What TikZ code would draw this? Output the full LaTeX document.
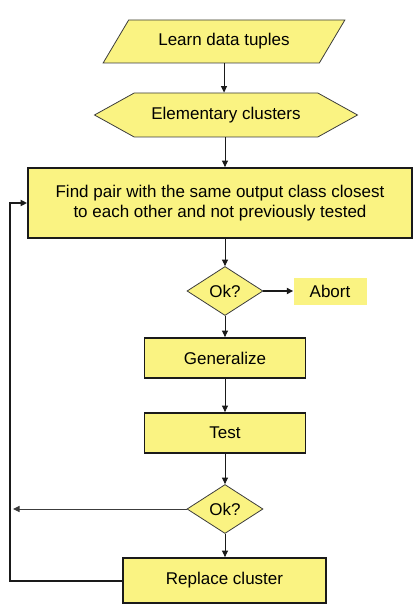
\documentclass[tikz,border=0pt]{standalone}
\usepackage{fontspec}
\setmainfont{Liberation Sans}
\usetikzlibrary{arrows.meta, shapes.geometric, shapes.symbols}
\definecolor{cyellow}{HTML}{FAF382}
\definecolor{cline}{HTML}{1A1A1A}
\definecolor{cgrey}{HTML}{3C3C3C}
\tikzset{
  every picture/.style={font=\fontsize{17}{19.5}\selectfont, x=1pt, y=-1pt},
  box/.style={draw=cline, fill=cyellow, line width=1.8pt, align=center, inner sep=0pt},
  arrow/.style={-{Triangle[length=6.5pt, width=6pt]}, draw=cline, line width=1pt},
}

\begin{document}
\begin{tikzpicture}[
    io/.style={trapezium, trapezium left angle=42, trapezium right angle=138, trapezium stretches=true,
      draw=cgrey, fill=cyellow, line width=0.8pt, minimum width=242pt, minimum height=43pt, inner sep=0pt},
    prep/.style={signal, signal to=west and east, signal pointer angle=58,
      draw=cgrey, fill=cyellow, line width=0.8pt, minimum width=263pt, minimum height=44pt, inner sep=0pt},
    ask/.style={diamond, draw=cgrey, fill=cyellow, line width=0.8pt, minimum width=76pt, minimum height=49pt, inner sep=0pt},
    stop/.style={fill=cyellow, minimum width=73pt, minimum height=27pt, inner sep=0pt},
    loop/.style={arrow, line width=2pt},
    back/.style={arrow, draw=cgrey, line width=1pt},
  ]
  \useasboundingbox (0,0) rectangle (416,604);

  \node[io]   (learn) at (224,41.5) {Learn data tuples};
  \node[prep] (elem)  at (226,115)  {Elementary clusters};
  \node[box, minimum width=384pt, minimum height=70pt] (find) at (220,203)
    {Find pair with the same output class closest\\to each other and not previously tested};
  \node[ask]  (ok1)   at (225,291)  {Ok?};
  \node[stop] (abort) at (330,291)  {Abort};
  \node[box, minimum width=161pt, minimum height=40pt] (gen)  at (225,358) {Generalize};
  \node[box, minimum width=161pt, minimum height=40pt] (test) at (225,433) {Test};
  \node[ask]  (ok2)   at (225,509)  {Ok?};
  \node[box, minimum width=203pt, minimum height=45pt] (repl) at (224.5,580.5) {Replace cluster};
  \coordinate (rail) at (10,509);
  \coordinate (stub) at (13,509);

  \draw[arrow] (learn.south) -- (learn.south |- elem.north);
  \draw[arrow] (ok1.north |- elem.south) -- (ok1.north |- find.north);
  \draw[arrow] (ok1.north |- find.south) -- (ok1.north);
  \draw[arrow, line width=1.6pt] (ok1.east) -- (abort.west);
  \draw[arrow] (ok1.south) -- (gen.north);
  \draw[arrow] (gen.south) -- (test.north);
  \draw[arrow] (test.south) -- (ok2.north);
  \draw[arrow] (ok2.south) -- (ok2.south |- repl.north);

  % retry loop
  \draw[back] (ok2.west) -- (stub);
  \draw[loop] (repl.west) -| (rail) |- (find.west);
\end{tikzpicture}
\end{document}
